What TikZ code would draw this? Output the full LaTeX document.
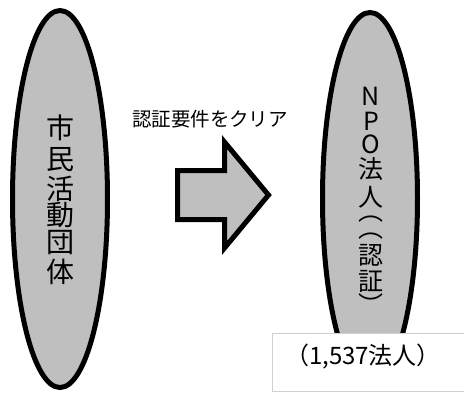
\documentclass[tikz,border=0pt]{standalone}
\usepackage{fontspec}
\setmainfont{Noto Sans CJK JP}
\usetikzlibrary{shapes.geometric}
\definecolor{fillgray}{RGB}{191,191,191}
\definecolor{boxline}{RGB}{208,208,208}
\begin{document}
\begin{tikzpicture}[x=1pt,y=-1pt,
  blob/.style={ellipse, draw=black, line width=5pt, fill=fillgray,
    minimum width=95pt, minimum height=377pt, inner sep=0pt},
  lch/.style={font=\fontsize{28}{28}\selectfont, inner sep=0pt},
  rch/.style={font=\fontsize{25}{25}\selectfont, inner sep=0pt},
  bigarrow/.style={draw=black, line width=5pt, fill=fillgray, line join=miter},
  lbl/.style={font=\fontsize{19.5}{19.5}\selectfont, inner sep=0pt},
  countbox/.style={draw=boxline, line width=1pt, fill=white,
    minimum width=192pt, minimum height=58pt, inner sep=0pt},
  cnt/.style={font=\fontsize{24}{24}\selectfont, inner sep=0pt}]
\useasboundingbox (0,0) rectangle (464,392);
% left ellipse
\node[blob] (left) at (60,199) {};
\foreach \c/\y [count=\i] in {市/127.5,民/159.5,活/188.5,動/215,団/242.5,体/271.5}
  \node[lch] (l\i) at (60,\y) {\c};
% right ellipse
\node[blob, minimum height=372pt] (right) at (370,198.5) {};
\foreach \c/\y [count=\i] in {N/96,P/121.5,O/144,法/169,人/197.5,︵/219,︵/236.5,認/255,証/281.5,︶/304}
  \node[rch] (r\i) at (371,\y) {\c};
% arrow
\draw[bigarrow] (177.5,170.5) -- (224.5,170.5) -- (224.5,142) -- (268.5,195)
  -- (224.5,248) -- (224.5,219.5) -- (177.5,219.5) -- cycle;
\node[lbl] (label) at (210,119) {認証要件をクリア};
% count box
\node[countbox] (box) at (368,362) {};
\node[cnt] (count) at (363,357) {（1,537法人）};
\end{tikzpicture}
\end{document}
